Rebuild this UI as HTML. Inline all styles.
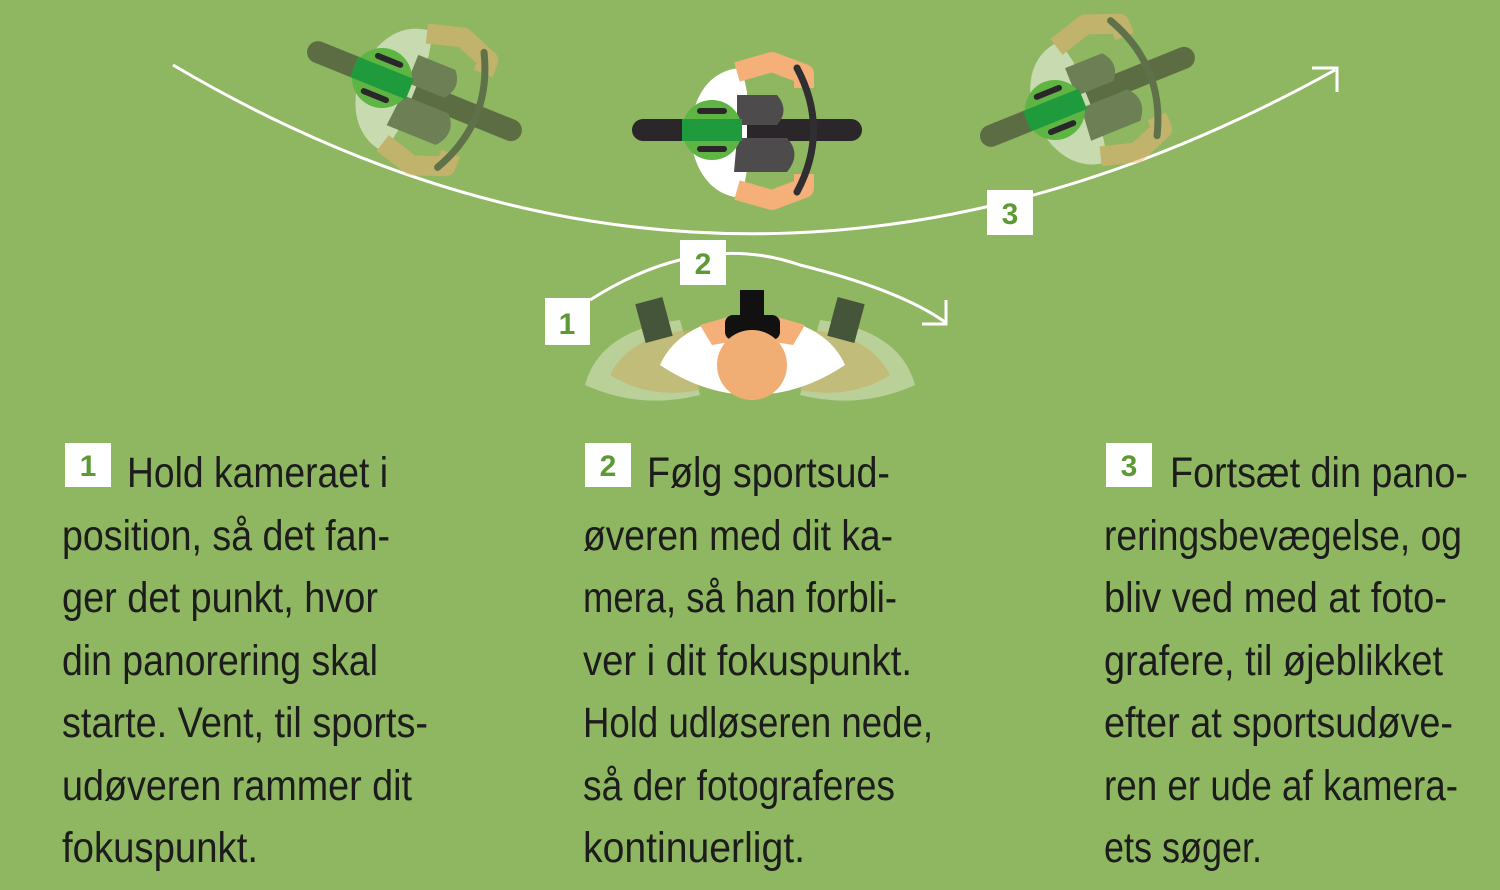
<!DOCTYPE html>
<html><head><meta charset="utf-8"><style>
html,body{margin:0;padding:0;background:#8fb660;}
svg{display:block}
.t{font-family:"Liberation Sans Narrow","Liberation Sans",sans-serif;font-size:43px;fill:#1c1c1c;}
.n{font-family:"Liberation Sans",sans-serif;font-weight:bold;font-size:30px;fill:#5d9a34;}
</style></head><body>
<svg width="1500" height="890" viewBox="0 0 1500 890" xmlns="http://www.w3.org/2000/svg">
<rect width="1500" height="890" fill="#8fb660"/>
<defs>
<g id="rider">
  <rect x="-80" y="-11" width="230" height="22" rx="11" fill="#2b2629"/>
  <path d="M30 -62 C-38 -60 -38 64 30 68 L35 40 L35 -38 Z" fill="#ffffff"/>
  <polyline points="25,-58 60,-68 92,-56 92,-42" fill="none" stroke="#f4b078" stroke-width="20" stroke-linejoin="round"/>
  <polyline points="25,60 60,70 92,58 92,44" fill="none" stroke="#f4b078" stroke-width="20" stroke-linejoin="round"/>
  <path d="M25 -35 L65 -35 Q78 -20 65 -5 L25 -5 Z" fill="#4d4b4c"/>
  <path d="M25 8 L75 8 Q90 24 75 42 L22 42 Z" fill="#4d4b4c"/>
  <path d="M85 -62 Q118 0 85 62" fill="none" stroke="#2f2f31" stroke-width="7" stroke-linecap="round"/>
</g>
<g id="helmet">
  <circle r="30" fill="#5fb543"/>
  <rect x="-30" y="-11" width="60" height="22" fill="#1f9b3d"/>
  <rect x="-15" y="-22" width="30" height="6" rx="3" fill="#2b2629"/>
  <rect x="-15" y="16" width="30" height="6" rx="3" fill="#2b2629"/>
</g>
</defs>
<!-- arcs -->
<path d="M173 65 Q740 400 1335 70" fill="none" stroke="#fff" stroke-width="3"/>
<polyline points="1312,68 1337,68 1337,92" fill="none" stroke="#fff" stroke-width="3"/>
<path d="M590 300 Q700 230 800 265 Q900 290 945 322" fill="none" stroke="#fff" stroke-width="3"/>
<polyline points="922,324 946,324 946,300" fill="none" stroke="#fff" stroke-width="3"/>
<!-- side riders -->
<g transform="translate(382,78) rotate(22)" opacity="0.5"><use href="#rider"/></g>
<g transform="translate(382,78) rotate(22)"><use href="#helmet"/></g>
<g transform="translate(1055,110) rotate(-22)" opacity="0.5"><use href="#rider"/></g>
<g transform="translate(1055,110) rotate(-22)"><use href="#helmet"/></g>
<g transform="translate(712,130)"><use href="#rider"/><use href="#helmet"/></g>
<!-- photographer -->
<g opacity="0.45">
<path d="M585 385 Q600 330 680 320 L700 395 Q640 410 585 385 Z" fill="#f0f0e0"/>
<path d="M915 385 Q900 330 820 320 L800 395 Q860 410 915 385 Z" fill="#f0f0e0"/>
</g>
<path d="M610 375 Q630 335 690 330 L700 390 Q650 400 610 375Z" fill="#c6b46c" opacity="0.7"/>
<path d="M890 375 Q870 335 810 330 L800 390 Q850 400 890 375Z" fill="#c6b46c" opacity="0.7"/>
<rect x="640" y="300" width="28" height="40" fill="#44553a" transform="rotate(-15 654 320)"/>
<rect x="832" y="300" width="28" height="40" fill="#44553a" transform="rotate(15 846 320)"/>
<path d="M660 365 Q680 320 752 315 Q825 320 845 365 Q800 395 752 395 Q705 395 660 365Z" fill="#fff"/>
<path d="M700 325 L735 315 L742 340 L712 345Z" fill="#f4b078"/>
<path d="M805 325 L770 315 L763 340 L793 345Z" fill="#f4b078"/>
<rect x="740" y="290" width="24" height="30" fill="#111"/>
<rect x="725" y="315" width="55" height="25" rx="8" fill="#111"/>
<circle cx="752" cy="365" r="35" fill="#f1ae74"/>
<!-- number boxes -->
<rect x="987" y="190" width="46" height="45" fill="#fff"/><text class="n" x="1010" y="224" text-anchor="middle">3</text>
<rect x="680" y="240" width="46" height="45" fill="#fff"/><text class="n" x="703" y="274" text-anchor="middle">2</text>
<rect x="545" y="298" width="45" height="47" fill="#fff"/><text class="n" x="567" y="334" text-anchor="middle">1</text>
<rect x="65" y="443" width="46" height="44" fill="#fff"/><text class="n" x="88" y="476" text-anchor="middle">1</text>
<rect x="585" y="443" width="46" height="44" fill="#fff"/><text class="n" x="608" y="476" text-anchor="middle">2</text>
<rect x="1106" y="443" width="46" height="44" fill="#fff"/><text class="n" x="1129" y="476" text-anchor="middle">3</text>
<!-- text col 1 -->
<g class="t">
<text x="127" y="487" textLength="261" lengthAdjust="spacingAndGlyphs">Hold kameraet i</text>
<text x="62" y="550" textLength="328" lengthAdjust="spacingAndGlyphs">position, så det fan-</text>
<text x="62" y="612" textLength="316" lengthAdjust="spacingAndGlyphs">ger det punkt, hvor</text>
<text x="62" y="675" textLength="316" lengthAdjust="spacingAndGlyphs">din panorering skal</text>
<text x="62" y="737" textLength="366" lengthAdjust="spacingAndGlyphs">starte. Vent, til sports-</text>
<text x="62" y="800" textLength="350" lengthAdjust="spacingAndGlyphs">udøveren rammer dit</text>
<text x="62" y="862" textLength="196" lengthAdjust="spacingAndGlyphs">fokuspunkt.</text>
<text x="647" y="487" textLength="243" lengthAdjust="spacingAndGlyphs">Følg sportsud-</text>
<text x="583" y="550" textLength="310" lengthAdjust="spacingAndGlyphs">øveren med dit ka-</text>
<text x="583" y="612" textLength="314" lengthAdjust="spacingAndGlyphs">mera, så han forbli-</text>
<text x="583" y="675" textLength="329" lengthAdjust="spacingAndGlyphs">ver i dit fokuspunkt.</text>
<text x="583" y="737" textLength="350" lengthAdjust="spacingAndGlyphs">Hold udløseren nede,</text>
<text x="583" y="800" textLength="312" lengthAdjust="spacingAndGlyphs">så der fotograferes</text>
<text x="583" y="862" textLength="222" lengthAdjust="spacingAndGlyphs">kontinuerligt.</text>
<text x="1170" y="487" textLength="298" lengthAdjust="spacingAndGlyphs">Fortsæt din pano-</text>
<text x="1104" y="550" textLength="358" lengthAdjust="spacingAndGlyphs">reringsbevægelse, og</text>
<text x="1104" y="612" textLength="343" lengthAdjust="spacingAndGlyphs">bliv ved med at foto-</text>
<text x="1104" y="675" textLength="339" lengthAdjust="spacingAndGlyphs">grafere, til øjeblikket</text>
<text x="1104" y="737" textLength="349" lengthAdjust="spacingAndGlyphs">efter at sportsudøve-</text>
<text x="1104" y="800" textLength="354" lengthAdjust="spacingAndGlyphs">ren er ude af kamera-</text>
<text x="1104" y="862" textLength="158" lengthAdjust="spacingAndGlyphs">ets søger.</text>
</g>
</svg>
</body></html>
